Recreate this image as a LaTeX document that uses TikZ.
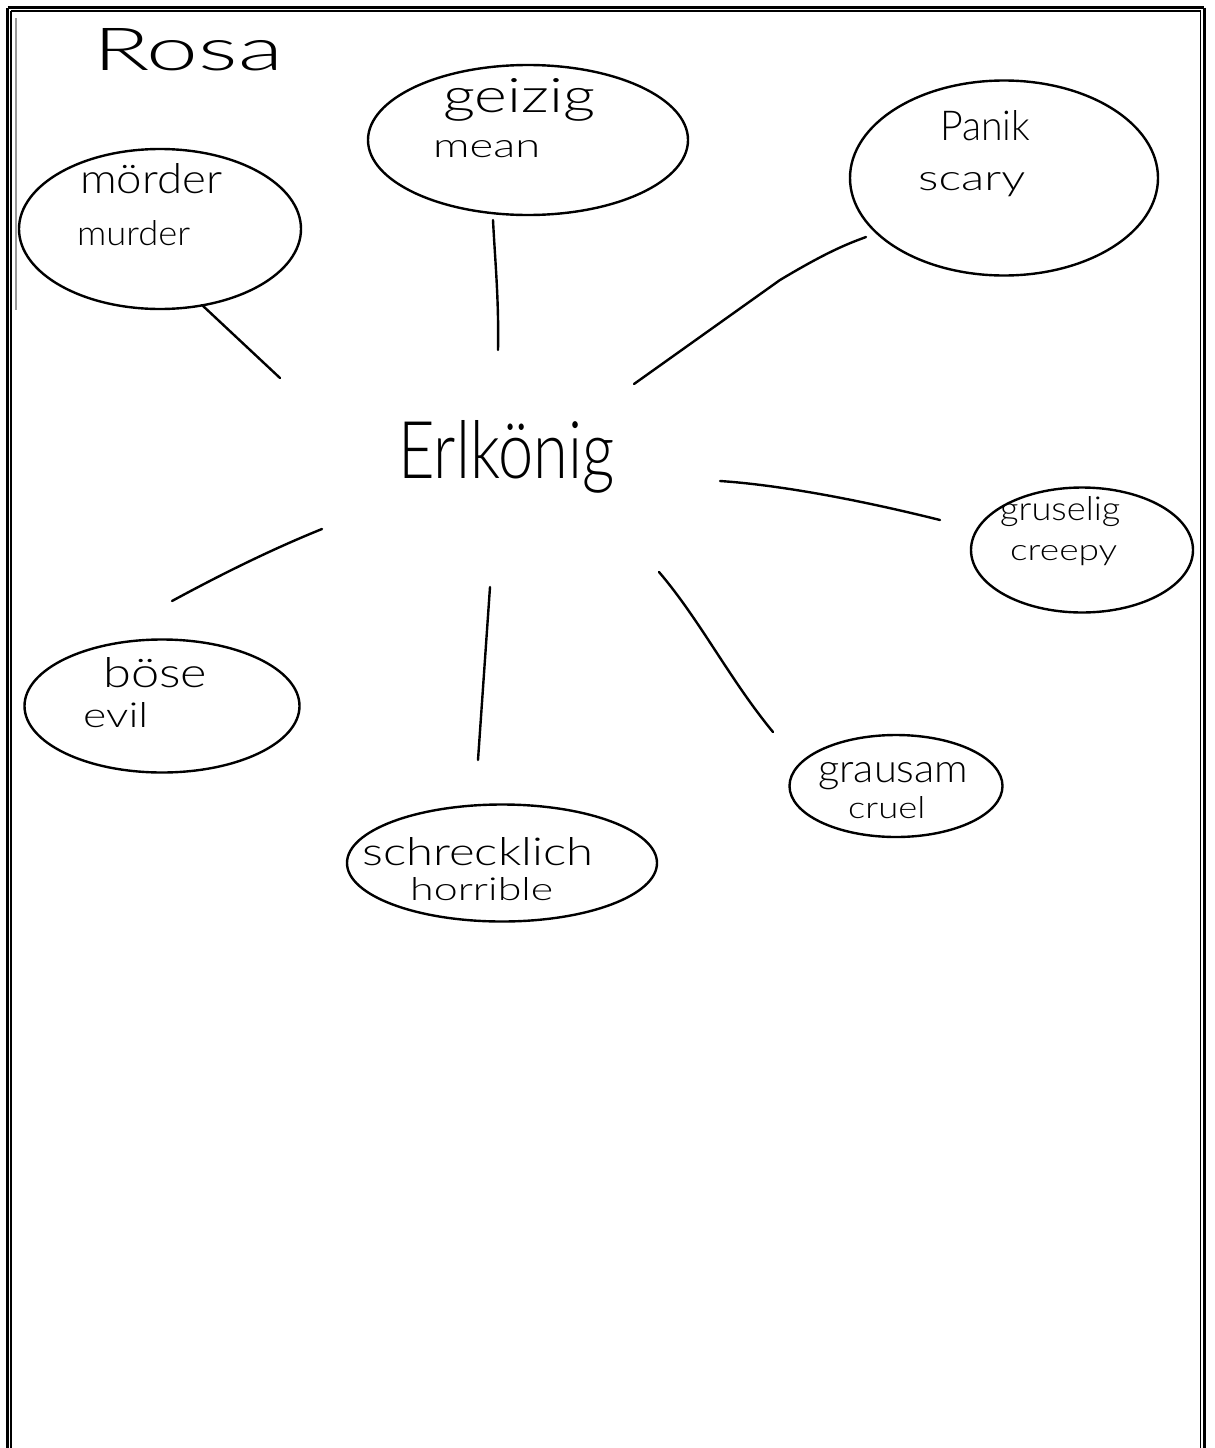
\documentclass[tikz,border=0pt]{standalone}
\usepackage{fontspec}
\setmainfont{Lato}[UprightFont=* Light]
\usetikzlibrary{shapes.geometric}
\newcommand{\hw}[3]{\resizebox{#1pt}{#2pt}{#3}}
\begin{document}
\begin{tikzpicture}[x=1pt,y=-1pt,
  blob/.style={draw, ellipse, line width=2.4pt, inner sep=0pt},
  word/.style={inner sep=0pt, anchor=base west},
  spoke/.style={line width=2.4pt, line cap=round}]
\useasboundingbox (0,0) rectangle (1215,1448);
\fill[white] (0,0) rectangle (1215,1448);
% frame
\draw[line width=3pt] (7.5,7.5) -- (1204,7.5);
\draw[line width=3pt] (7.5,7.5) -- (7.5,1460);
\draw[line width=3pt] (1204,7.5) -- (1204,1460);
\draw[line width=1.5pt] (11,11) -- (1200.5,11);
\draw[line width=1.5pt] (11,11) -- (11,1460);
\draw[line width=1.5pt] (1200.5,11) -- (1200.5,1460);
\draw[black!40, line width=2pt] (16,18) -- (16,310);

% title
\node[word] (rosa) at (93,70) {\hw{190}{42}{Rosa}};
\node[word] (erl) at (398,478) {\hw{216}{58}{Erlkönig}};

% ellipses
\node[blob, minimum width=282pt, minimum height=160pt] (eMord) at (160,229) {};
\node[blob, minimum width=320pt, minimum height=150pt] (eGeiz) at (528,140) {};
\node[blob, minimum width=308pt, minimum height=195pt] (ePanik) at (1004,178) {};
\node[blob, minimum width=222pt, minimum height=125pt] (eGrus) at (1082,550) {};
\node[blob, minimum width=275pt, minimum height=133pt] (eBose) at (162,706) {};
\node[blob, minimum width=310pt, minimum height=117pt] (eSchr) at (502,863) {};
\node[blob, minimum width=213pt, minimum height=102pt] (eGrau) at (896,786) {};

% labels
\node[word] (tMord) at (80,193) {\hw{142}{30}{mörder}};
\node[word] (tMurd) at (77,245) {\hw{113}{25}{murder}};
\node[word] (tGeiz) at (443,112) {\hw{152}{34}{geizig}};
\node[word] (tMean) at (433,157) {\hw{107}{17}{mean}};
\node[word] (tPanik) at (940,140) {\hw{90}{30}{Panik}};
\node[word] (tScary) at (918,190) {\hw{107}{18}{scary}};
\node[word] (tGrus) at (1000,520) {\hw{120}{24}{gruselig}};
\node[word] (tCreep) at (1010,560) {\hw{107}{15}{creepy}};
\node[word] (tBose) at (103,687) {\hw{104}{30}{böse}};
\node[word] (tEvil) at (83,727) {\hw{65}{25}{evil}};
\node[word] (tSchr) at (362,865) {\hw{231}{28}{schrecklich}};
\node[word] (tHorr) at (410,900) {\hw{143}{23}{horrible}};
\node[word] (tGrau) at (818,782) {\hw{150}{20}{grausam}};
\node[word] (tCruel) at (848,818) {\hw{77}{22}{cruel}};

% spoke ends
\coordinate (mA) at (202,305); \coordinate (mB) at (280,378);
\coordinate (gA) at (493,220); \coordinate (gB) at (498,350);
\coordinate (pA) at (866,237); \coordinate (pB) at (634,384);
\coordinate (cA) at (940,520); \coordinate (cB) at (720,481);
\coordinate (bA) at (172,601); \coordinate (bB) at (322,529);
\coordinate (sA) at (478,760); \coordinate (sB) at (490,587);
\coordinate (rA) at (773,732); \coordinate (rB) at (659,572);

\draw[spoke] (mA) -- (mB);
\draw[spoke] (gA) .. controls (495,260) and (499,300) .. (gB);
\draw[spoke] (pA) .. controls (850,243) and (830,250) .. (780,280) -- (pB);
\draw[spoke] (cA) .. controls (860,500) and (780,485) .. (cB);
\draw[spoke] (bA) .. controls (220,575) and (270,550) .. (bB);
\draw[spoke] (sA) -- (sB);
\draw[spoke] (rA) .. controls (730,680) and (700,620) .. (rB);
\end{tikzpicture}
\end{document}
